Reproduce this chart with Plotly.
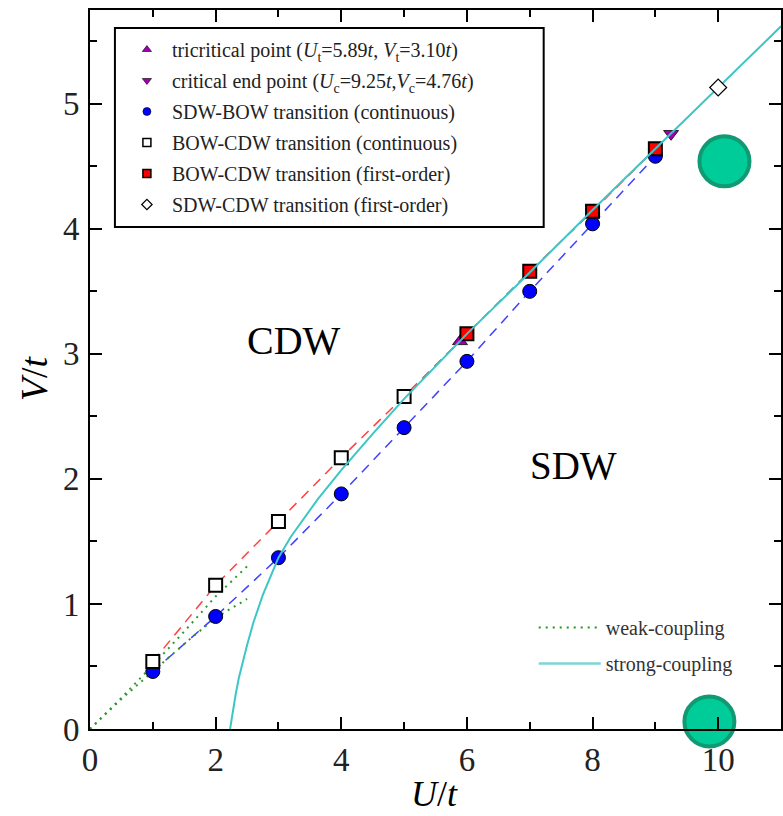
import plotly.graph_objects as go

# --- phase boundary data (U/t, V/t) ---
U_grid = [1, 2, 3, 4, 5, 6, 7, 8, 9]
V_sdw_bow = [0.46, 0.90, 1.37, 1.88, 2.41, 2.94, 3.50, 4.04, 4.58]

U_bow_cdw_cont = [1, 2, 3, 4, 5]
V_bow_cdw_cont = [0.54, 1.15, 1.66, 2.17, 2.66]

U_bow_cdw_first = [6, 7, 8, 9]
V_bow_cdw_first = [3.16, 3.66, 4.14, 4.64]

U_sdw_cdw = [10]
V_sdw_cdw = [5.13]

U_tri, V_tri = [5.89], [3.10]
U_cep, V_cep = [9.25], [4.76]

# weak-coupling estimates (two branches from the origin)
U_weak_a = [0, 0.5, 1.0, 1.5, 2.0, 2.5]
V_weak_a = [0, 0.25, 0.51, 0.78, 1.06, 1.30]
U_weak_b = [0, 0.5, 1.0, 1.5, 2.0, 2.5]
V_weak_b = [0, 0.24, 0.46, 0.68, 0.89, 1.04]

# strong-coupling boundary
U_strong = [2.23, 2.25, 2.28, 2.32, 2.37, 2.43, 2.50, 2.60, 2.75, 2.90, 3.00, 3.20,
            3.44, 3.63, 4.00, 4.50, 5.00, 5.50, 6.00, 7.0, 8.0, 9.0, 10.0, 11.0]
V_strong = [0.00, 0.07, 0.17, 0.28, 0.41, 0.54, 0.67, 0.85, 1.07, 1.25, 1.37, 1.54,
            1.71, 1.84, 2.07, 2.36, 2.64, 2.90, 3.16, 3.65, 4.15, 4.64, 5.13, 5.62]

# highlight markers
U_mark = [10.10, 9.86]
V_mark = [4.54, 0.06]

SERIF = "Liberation Serif"

fig = go.Figure()

# dashed guide lines through the numerical points
fig.add_trace(go.Scatter(x=U_grid, y=V_sdw_bow, mode="lines",
                         line=dict(color="#4040ff", width=1.5, dash="10px,7px"),
                         showlegend=False, hoverinfo="skip"))
fig.add_trace(go.Scatter(x=U_bow_cdw_cont + U_bow_cdw_first,
                         y=V_bow_cdw_cont + V_bow_cdw_first, mode="lines",
                         line=dict(color="#ff4040", width=1.5, dash="10px,7px"),
                         showlegend=False, hoverinfo="skip"))

# weak-coupling curves
for Uw, Vw in [(U_weak_a, V_weak_a), (U_weak_b, V_weak_b)]:
    fig.add_trace(go.Scatter(x=Uw, y=Vw, mode="lines",
                             line=dict(color="#2a9a2a", width=2, dash="2px,5px"),
                             showlegend=False, hoverinfo="skip"))

# data points
fig.add_trace(go.Scatter(x=U_grid, y=V_sdw_bow, mode="markers",
                         marker=dict(symbol="circle", size=14, color="#0000ff",
                                     line=dict(color="black", width=1)),
                         showlegend=False))
fig.add_trace(go.Scatter(x=U_tri, y=V_tri, mode="markers",
                         marker=dict(symbol="triangle-up", size=13, color="#a000b0",
                                     line=dict(color="black", width=0.8)),
                         showlegend=False))
fig.add_trace(go.Scatter(x=U_cep, y=V_cep, mode="markers",
                         marker=dict(symbol="triangle-down", size=13, color="#a000b0",
                                     line=dict(color="black", width=0.8)),
                         showlegend=False))
fig.add_trace(go.Scatter(x=U_bow_cdw_cont, y=V_bow_cdw_cont, mode="markers",
                         marker=dict(symbol="square", size=13, color="white",
                                     line=dict(color="black", width=2)),
                         showlegend=False))
fig.add_trace(go.Scatter(x=U_bow_cdw_first, y=V_bow_cdw_first, mode="markers",
                         marker=dict(symbol="square", size=13, color="#ff0000",
                                     line=dict(color="black", width=2)),
                         showlegend=False))

# strong-coupling curve
fig.add_trace(go.Scatter(x=U_strong, y=V_strong, mode="lines",
                         line=dict(color="#3cc6c6", width=2),
                         showlegend=False, hoverinfo="skip"))

fig.add_trace(go.Scatter(x=U_sdw_cdw, y=V_sdw_cdw, mode="markers",
                         marker=dict(symbol="diamond", size=13, color="white",
                                     line=dict(color="black", width=1.2)),
                         showlegend=False))

# large highlight markers
fig.add_trace(go.Scatter(x=U_mark, y=V_mark, mode="markers",
                         marker=dict(symbol="circle", size=50, color="#00cc99",
                                     line=dict(color="#0f9a72", width=4)),
                         showlegend=False, cliponaxis=False))

# legend entries (small symbols)
legend_items = [
    ("tricritical point (<i>U</i><sub>t</sub>=5.89<i>t</i>, <i>V</i><sub>t</sub>=3.10<i>t</i>)",
     "triangle-up", "#a000b0", "black", 0.6),
    ("critical end point (<i>U</i><sub>c</sub>=9.25<i>t</i>,<i>V</i><sub>c</sub>=4.76<i>t</i>)",
     "triangle-down", "#a000b0", "black", 0.6),
    ("SDW-BOW transition (continuous)", "circle", "#0000ff", "black", 0.6),
    ("BOW-CDW transition (continuous)", "square", "white", "black", 1.5),
    ("BOW-CDW transition (first-order)", "square", "#ff0000", "black", 1.5),
    ("SDW-CDW transition (first-order)", "diamond", "white", "black", 1.2),
]
for i, (name, sym, fc, lc, lw) in enumerate(legend_items):
    fig.add_trace(go.Scatter(x=[None], y=[None], mode="markers", name=name,
                             legendgroup=f"g{i}",
                             marker=dict(symbol=sym, size=8, color=fc,
                                         line=dict(color=lc, width=lw)),
                             legend="legend"))

fig.add_trace(go.Scatter(x=[None], y=[None], mode="lines", name="weak-coupling",
                         legendgroup="w",
                         line=dict(color="#1a9a1a", width=2, dash="2px,5px"),
                         legend="legend2"))
fig.add_trace(go.Scatter(x=[None], y=[None], mode="lines", name="strong-coupling",
                         legendgroup="s",
                         line=dict(color="#7dd6d6", width=2.5),
                         legend="legend2"))

# region labels
fig.add_annotation(x=3.24, y=3.11, text="CDW", showarrow=False,
                   font=dict(family=SERIF, size=40, color="black"))
fig.add_annotation(x=7.70, y=2.11, text="SDW", showarrow=False,
                   font=dict(family=SERIF, size=39, color="black"))

# axis titles
fig.add_annotation(xref="paper", yref="paper", x=(34 - 90) / 693, y=(729 - 378) / 719,
                   text="<i>V</i>/<i>t</i>", textangle=-90, showarrow=False,
                   xanchor="center", yanchor="middle",
                   font=dict(family=SERIF, size=38, color="black"))
fig.add_annotation(xref="paper", yref="paper", x=(435 - 90) / 693, y=(729 - 794) / 719,
                   text="<i>U</i>/<i>t</i>", showarrow=False,
                   xanchor="center", yanchor="middle",
                   font=dict(family=SERIF, size=36, color="black"))

# legend frame
fig.add_shape(type="rect", xref="paper", yref="paper",
              x0=(115 - 90) / 693, x1=(545 - 90) / 693,
              y0=(729 - 227) / 719, y1=(729 - 28) / 719,
              line=dict(color="black", width=2), fillcolor="rgba(0,0,0,0)", layer="above")

axis_common = dict(showline=True, linewidth=2, linecolor="black", mirror="allticks",
                   ticks="inside", ticklen=12, tickwidth=2, tickcolor="black",
                   showgrid=False, zeroline=False,
                   tickfont=dict(family=SERIF, size=33, color="#222"))

fig.update_xaxes(range=[0, 11.0], tickvals=[0, 2, 4, 6, 8, 10],
                 minor=dict(tickvals=[1, 3, 5, 7, 9], ticklen=7, tickwidth=1.5,
                            ticks="inside", tickcolor="black", showgrid=False),
                 **axis_common)
fig.update_yaxes(range=[0, 5.75], tickvals=[0, 1, 2, 3, 4, 5],
                 minor=dict(tickvals=[0.5, 1.5, 2.5, 3.5, 4.5, 5.5], ticklen=7,
                            tickwidth=1.5, ticks="inside", tickcolor="black",
                            showgrid=False),
                 ticklabelstandoff=2,
                 **axis_common)

fig.update_layout(
    width=783, height=816,
    margin=dict(l=90, r=0, t=10, b=87),
    paper_bgcolor="white", plot_bgcolor="white",
    showlegend=True,
    legend=dict(x=(122 - 90) / 693, y=(729 - 30) / 719, xanchor="left", yanchor="top",
                bgcolor="rgba(0,0,0,0)", borderwidth=0, tracegroupgap=2,
                traceorder="grouped", itemwidth=40,
                font=dict(family=SERIF, size=20, color="#222")),
    legend2=dict(x=(535 - 90) / 693, y=(729 - 608) / 719, xanchor="left", yanchor="top",
                 bgcolor="rgba(0,0,0,0)", borderwidth=0, tracegroupgap=7,
                 traceorder="grouped", itemwidth=62,
                 font=dict(family=SERIF, size=20, color="#333")),
)

fig.write_html("out.html")
